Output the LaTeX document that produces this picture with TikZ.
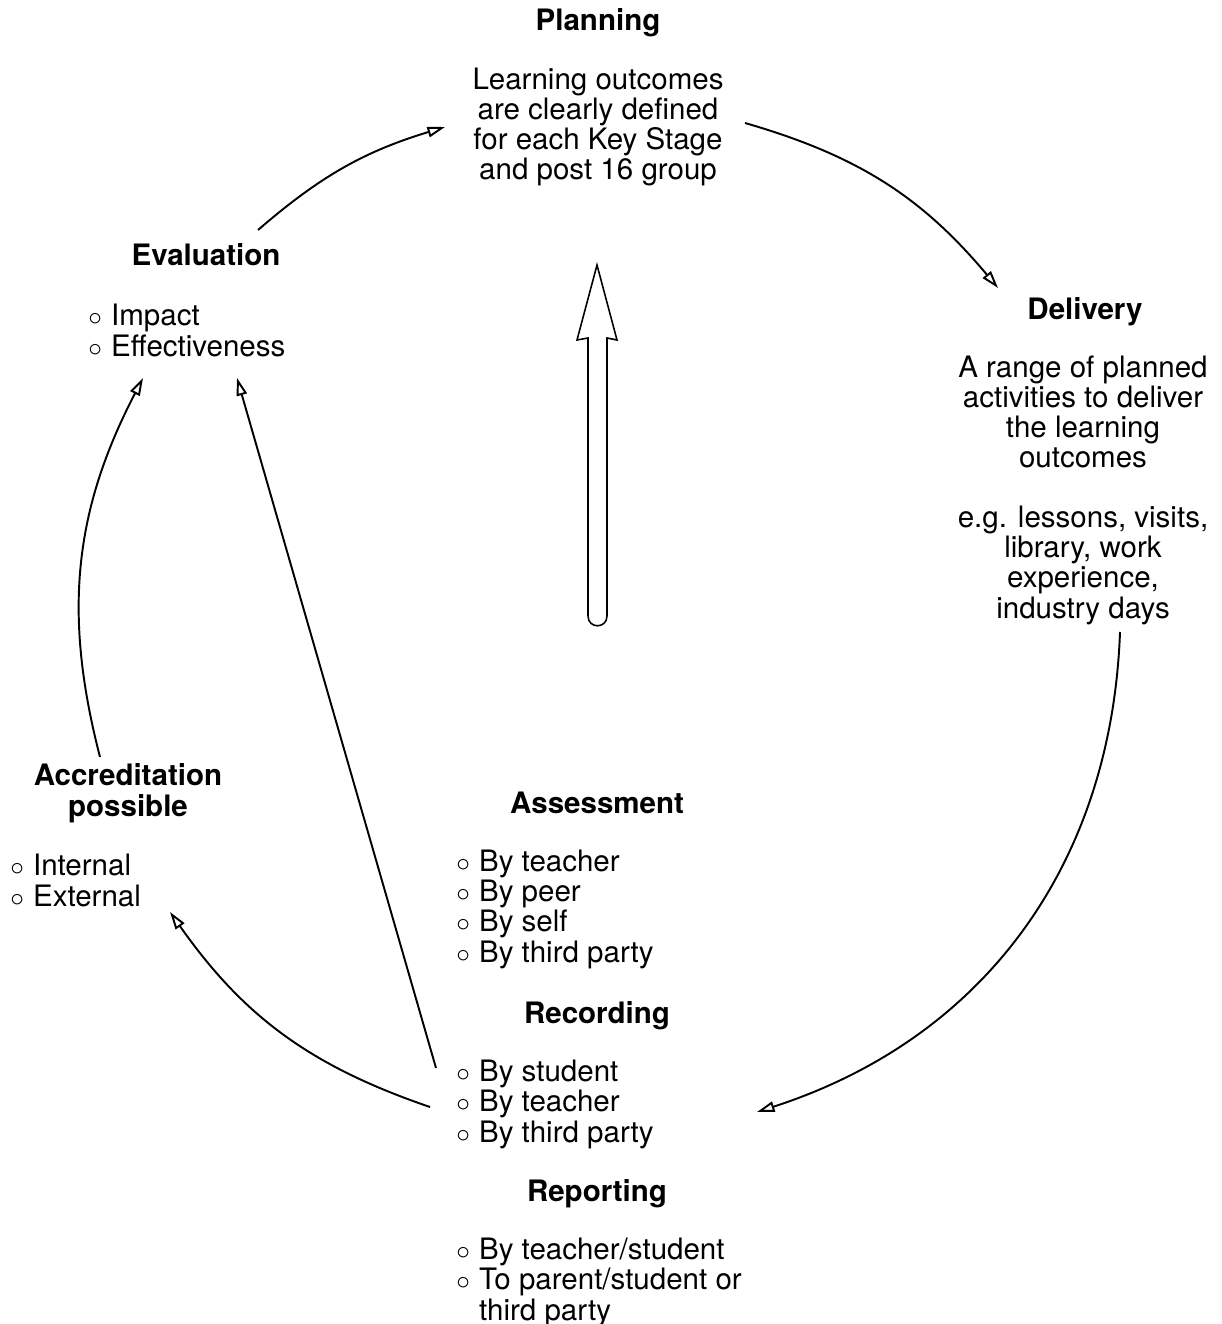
\documentclass[tikz,border=0pt]{standalone}
\usepackage{fontspec}
\setmainfont{TeX Gyre Heros}
\usetikzlibrary{arrows.meta}

\newcommand\txtsize{\fontsize{16.8pt}{17.1pt}\selectfont}
\newcommand\bul{\makebox[0.77em][l]{\scalebox{0.9}{$\circ$}}}

\tikzset{
  head/.style={font=\txtsize\bfseries, align=center, anchor=base, inner sep=0pt},
  body/.style={font=\txtsize, align=center, anchor=base, inner sep=0pt},
  list/.style={font=\txtsize, align=left, anchor=base west, inner sep=0pt},
  flow/.style={line width=1.1pt, -{Triangle[open,length=10pt,width=6pt]}},
}

\begin{document}
\begin{tikzpicture}[x=0.02cm,y=-0.02cm]
\useasboundingbox (0,0) rectangle (1222,1324);

% multi-line nodes sit on their last baseline
\node[head] (plan) at (598,31) {Planning};
\node[body] (plantxt) at (598,180) {Learning outcomes\\are clearly defined\\for each Key Stage\\and post 16 group};

\node[head] (deliv) at (1085,319) {Delivery};
\node[body] (delivtxt) at (1083,618) {A range of planned\\activities to deliver\\the learning\\outcomes\\[0.6cm]e.g. lessons, visits,\\library, work\\experience,\\industry days};

\node[head] (eval) at (206,266) {Evaluation};
\node[list] (evaltxt) at (88,356) {\bul Impact\\\bul Effectiveness};

\node[head] (accr) at (128,816) {Accreditation\\possible};
\node[list] (accrtxt) at (10,906) {\bul Internal\\\bul External};

\node[head] (assess) at (597,813) {Assessment};
\node[list] (assesstxt) at (456,962) {\bul By teacher\\\bul By peer\\\bul By self\\\bul By third party};

\node[head] (rec) at (597,1023) {Recording};
\node[list] (rectxt) at (456,1142) {\bul By student\\\bul By teacher\\\bul By third party};

\node[head] (rep) at (597,1201) {Reporting};
\node[list] (reptxt) at (456,1320) {\bul By teacher/student\\\bul To parent/student or\\\hphantom{\bul}third party};

% cycle arrows
\coordinate (e1) at (258,230); \coordinate (p1) at (445,127);
\coordinate (p2) at (745,123); \coordinate (d1) at (998,288);
\coordinate (d2) at (1120,632); \coordinate (r1) at (757,1112);
\coordinate (r2) at (430,1107); \coordinate (a1) at (170,912);
\coordinate (a2) at (100,757); \coordinate (e2) at (143,378);
\coordinate (r3) at (436,1068); \coordinate (e3) at (237,378);
\draw[flow] (e1) to[bend left=12] (p1);
\draw[flow] (p2) to[bend left=17] (d1);
\draw[flow] (d2) to[bend left=35] (r1);
\draw[flow] (r2) to[bend left=18] (a1);
\draw[flow] (a2) to[bend left=21] (e2);
\draw[flow] (r3) -- (e3);

% big hollow arrow
\draw[line width=0.9pt] (597,265) -- (617,340) -- (607,338) -- (607,616)
  .. controls (607,629) and (588,629) .. (588,616) -- (588,338) -- (577,340) -- cycle;
\end{tikzpicture}
\end{document}
